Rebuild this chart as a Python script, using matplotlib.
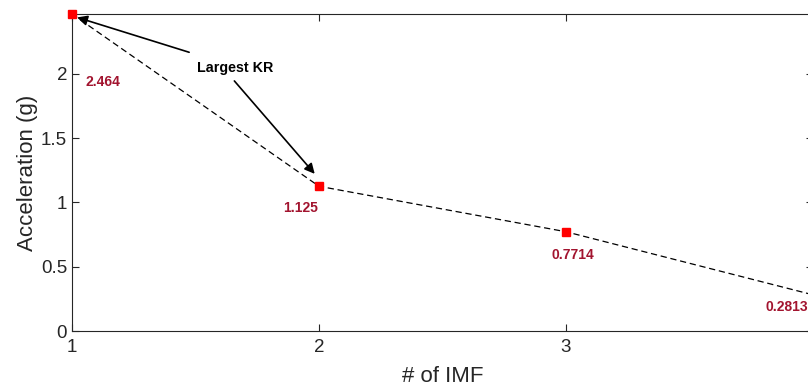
import matplotlib.pyplot as plt

plt.rcParams['font.family'] = ['Liberation Sans', 'DejaVu Sans']

# IMF number vs acceleration
imf = [1, 2, 3, 4]
accel = [2.464, 1.125, 0.7714, 0.2813]
labels = ['2.464', '1.125', '0.7714', '0.2813']
# label offsets in points (dx, dy) from each marker
label_offsets = [(22, -49), (-13, -16), (5, -17), (-19, -9)]

fig = plt.figure(figsize=(8.08, 3.88), dpi=100)
ax = fig.add_axes([72 / 808, 57 / 388, 741 / 808, 317 / 388])

ax.plot(imf, accel, linestyle='--', color='black', linewidth=0.9, dashes=(5, 3))
ax.plot(imf, accel, linestyle='none', marker='s', markersize=6,
        color='red', markeredgecolor='red', clip_on=False, zorder=5)

for x, y, lab, (dx, dy) in zip(imf, accel, labels, label_offsets):
    ax.annotate(lab, (x, y), xytext=(dx, dy), textcoords='offset points',
                ha='center', va='center', fontsize=10, fontweight='bold',
                color='#A2142F', annotation_clip=False)

# "Largest KR" annotation with two arrows
ax.text(1.662, 2.045, 'Largest KR', ha='center', va='center',
        fontsize=10.3, fontweight='bold', color='black')
ax.annotate('', xy=(imf[0] + 0.01, accel[0] - 0.02), xytext=(1.485, 2.16),
            arrowprops=dict(arrowstyle='-|>', color='black', lw=1.2,
                            mutation_scale=15))
ax.annotate('', xy=(imf[1] - 0.01, accel[1] + 0.08), xytext=(1.65, 1.96),
            arrowprops=dict(arrowstyle='-|>', color='black', lw=1.2,
                            mutation_scale=15))

ax.set_xlim(1, 4)
ax.set_ylim(0, 2.464)
ax.set_xticks([1, 2, 3, 4])
ax.set_yticks([0, 0.5, 1, 1.5, 2])
ax.set_yticklabels(['0', '0.5', '1', '1.5', '2'])
ax.tick_params(direction='in', top=True, right=True, labelsize=13.5,
               colors='#262626', length=5, width=0.8)
ax.tick_params(axis='x', pad=6)
for s in ax.spines.values():
    s.set_color('#262626')
    s.set_linewidth(0.8)

ax.set_xlabel('# of IMF', fontsize=16, color='#262626', labelpad=7)
ax.set_ylabel('Acceleration (g)', fontsize=16, color='#262626', labelpad=2)

fig.savefig('out.png', dpi=100)
